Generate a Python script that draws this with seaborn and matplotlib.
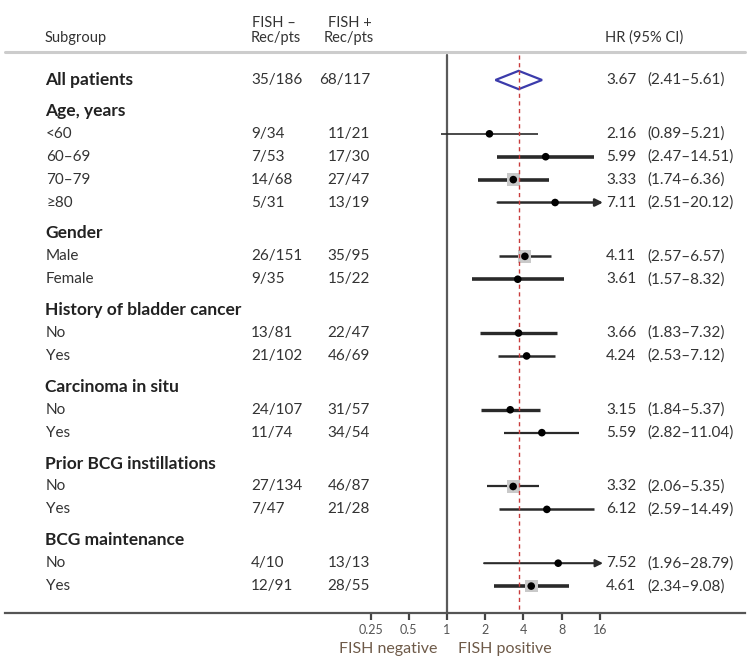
import numpy as np
import pandas as pd
import matplotlib
matplotlib.use('Agg')
import matplotlib.pyplot as plt
import matplotlib.transforms as mtransforms
import seaborn as sns

# Data
labels = ['All patients', 'Age, years', '<60', '60–69', '70–79', '≥80',
          'Gender', 'Male', 'Female',
          'History of bladder cancer', 'No', 'Yes',
          'Carcinoma in situ', 'No', 'Yes',
          'Prior BCG instillations', 'No', 'Yes',
          'BCG maintenance', 'No', 'Yes']
heading = [True, True, False, False, False, False,
           True, False, False,
           True, False, False,
           True, False, False,
           True, False, False,
           True, False, False]
fish_neg = ['35/186', '', '9/34', '7/53', '14/68', '5/31', '', '26/151', '9/35',
            '', '13/81', '21/102', '', '24/107', '11/74', '', '27/134', '7/47',
            '', '4/10', '12/91']
fish_pos = ['68/117', '', '11/21', '17/30', '27/47', '13/19', '', '35/95', '15/22',
            '', '22/47', '46/69', '', '31/57', '34/54', '', '46/87', '21/28',
            '', '13/13', '28/55']
nan = np.nan
hr = [3.67, nan, 2.16, 5.99, 3.33, 7.11, nan, 4.11, 3.61, nan, 3.66, 4.24,
      nan, 3.15, 5.59, nan, 3.32, 6.12, nan, 7.52, 4.61]
lo = [2.41, nan, 0.89, 2.47, 1.74, 2.51, nan, 2.57, 1.57, nan, 1.83, 2.53,
      nan, 1.84, 2.82, nan, 2.06, 2.59, nan, 1.96, 2.34]
hi = [5.61, nan, 5.21, 14.51, 6.36, 20.12, nan, 6.57, 8.32, nan, 7.32, 7.12,
      nan, 5.37, 11.04, nan, 5.35, 14.49, nan, 28.79, 9.08]
xticks = [0.25, 0.5, 1, 2, 4, 8, 16]
xticklabels = ['0.25', '0.5', '1', '2', '4', '8', '16']

# styling per row
line_w = [0, 0, 1.2, 2.6, 2.6, 1.8, 0, 1.8, 2.6, 0, 2.4, 1.8, 0, 2.4, 1.6,
          0, 1.6, 1.8, 0, 1.5, 2.6]
has_box = [False, False, False, False, True, False, False, True, False, False,
           False, False, False, False, False, False, True, False, False, False, True]

# vertical layout: one unit per row, extra gap before section headings
ypos = []
y = 0.0
for i, h in enumerate(heading):
    if i > 0:
        y += 1.35 if h else 1.0
    ypos.append(y)

df = pd.DataFrame({'label': labels, 'heading': heading, 'neg': fish_neg,
                   'pos': fish_pos, 'hr': hr, 'lo': lo, 'hi': hi,
                   'y': ypos, 'lw': line_w, 'box': has_box})

sns.set_theme(style='white')
plt.rcParams['font.family'] = ['Lato', 'DejaVu Sans']

W, H = 749, 662
fig = plt.figure(figsize=(W / 100, H / 100), dpi=100)
ax = fig.add_axes([0, 1 - 613 / H, 1, 613 / H])

# pixel -> data mapping for the log2 axis: 1 at x=447, 38.2 px per doubling
px_one, px_dbl = 447, 38.2
ax.set_xscale('log', base=2)
ax.set_xlim(2 ** ((0 - px_one) / px_dbl), 2 ** ((W - px_one) / px_dbl))
row_px, row0 = 22.9, 80
ax.set_ylim((613 - row0) / row_px, (0 - row0) / row_px)
clip = 2 ** ((603 - px_one) / px_dbl)

def fx(p):
    return p / W

def py(p):
    return (p - row0) / row_px

trans = mtransforms.blended_transform_factory(ax.transAxes, ax.transData)

# reference lines
ax.plot([1, 1], [py(55), py(613)], color='#5a5a5a', lw=1.6, zorder=2)
ax.plot([hr[0], hr[0]], [py(55), py(613)], color='#c83c3c', lw=1.0,
        dashes=(3, 2.5), zorder=5)
ax.axhline(py(52), xmin=fx(5), xmax=fx(745), color='#cccccc', lw=2.2)

# overall diamond
d = df.iloc[0]
ax.fill([d.lo, d.hr, d.hi, d.hr], [d.y, d.y - 0.4, d.y, d.y + 0.4],
        facecolor='white', edgecolor='#3b3bab', lw=1.6, zorder=4)

# subgroup CIs
sub = df[(~df.heading) & (df.index > 0)]
for _, r in sub.iterrows():
    if r.hi > clip:
        ax.annotate('', xy=(clip, r.y), xytext=(r.lo, r.y),
                    arrowprops=dict(arrowstyle='-|>', color='#2a2a2a',
                                    lw=r.lw, mutation_scale=11,
                                    shrinkA=0, shrinkB=0), zorder=3)
    else:
        ax.plot([r.lo, r.hi], [r.y, r.y], color='#2a2a2a', lw=r.lw,
                solid_capstyle='butt', zorder=3)

sns.scatterplot(data=sub[sub.box], x='hr', y='y', marker='s', s=85,
                color='#c9c9c9', edgecolor='none', ax=ax, zorder=3, legend=False)
sns.scatterplot(data=sub, x='hr', y='y', marker='o', s=30, color='black',
                edgecolor='none', ax=ax, zorder=6, legend=False)

# text columns
txt = '#333333'
for _, r in df.iterrows():
    if r.heading:
        ax.text(fx(45), r.y, r.label, transform=trans, va='center', ha='left',
                fontsize=12.5, fontweight='bold', color='#222222')
    else:
        ax.text(fx(46), r.y, r.label, transform=trans, va='center', ha='left',
                fontsize=11, color=txt)
    if r.neg:
        ax.text(fx(251), r.y, r.neg, transform=trans, va='center', ha='left',
                fontsize=11, color=txt)
        ax.text(fx(370), r.y, r.pos, transform=trans, va='center', ha='right',
                fontsize=11, color=txt)
    if not np.isnan(r.hr):
        ax.text(fx(606), r.y, f'{r.hr:.2f}', transform=trans, va='center',
                ha='left', fontsize=11, color=txt)
        ax.text(fx(647), r.y, f'({r.lo:.2f}–{r.hi:.2f})', transform=trans,
                va='center', ha='left', fontsize=11, color=txt)

# header
ax.text(fx(45), py(38), 'Subgroup', transform=trans, va='center', fontsize=10.5, color=txt)
ax.text(fx(252), py(23), 'FISH –', transform=trans, va='center', fontsize=10.5, color=txt)
ax.text(fx(251), py(38), 'Rec/pts', transform=trans, va='center', fontsize=10.5, color=txt)
ax.text(fx(328), py(23), 'FISH +', transform=trans, va='center', fontsize=10.5, color=txt)
ax.text(fx(324), py(38), 'Rec/pts', transform=trans, va='center', fontsize=10.5, color=txt)
ax.text(fx(605), py(38), 'HR (95% CI)', transform=trans, va='center', fontsize=10.5, color=txt)

# axis styling
for s in ['top', 'left', 'right']:
    ax.spines[s].set_visible(False)
ax.spines['bottom'].set_color('#555555')
ax.spines['bottom'].set_linewidth(1.6)
ax.spines['bottom'].set_bounds(2 ** ((5 - px_one) / px_dbl), 2 ** ((745 - px_one) / px_dbl))
ax.set_yticks([])
ax.set_xticks(xticks)
ax.set_xticklabels(xticklabels)
ax.minorticks_off()
ax.tick_params(axis='x', direction='out', length=5, width=1.6, color='#444444',
               labelsize=9, labelcolor='#555555', pad=3, bottom=True)
ax.set_xlabel('')
ax.set_ylabel('')

fig.text(fx(388), 1 - 649 / H, 'FISH negative', ha='center', va='center',
         fontsize=11.5, color='#6e5a48')
fig.text(fx(505), 1 - 649 / H, 'FISH positive', ha='center', va='center',
         fontsize=11.5, color='#6e5a48')

fig.savefig('out.png', dpi=100, facecolor='white')
